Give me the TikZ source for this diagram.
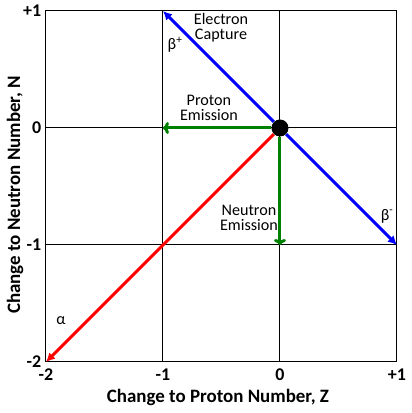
\documentclass[tikz,border=0pt]{standalone}
\usepackage{fontspec}
\setmainfont{Carlito}
\usetikzlibrary{arrows.meta,positioning}

\definecolor{decblue}{RGB}{0,0,255}
\definecolor{decred}{RGB}{255,0,0}
\definecolor{decgreen}{RGB}{0,128,0}

\begin{document}
\begin{tikzpicture}
  [x=117bp, y=117bp, >={Latex[length=9bp,width=9bp]}]

% fix the margins
\useasboundingbox (-2.393,-2.436) rectangle (1.128,1.094);

% define styles
\tikzstyle{gridline} = [draw=black, line width=1bp];
\tikzstyle{tick} = [font=\fontsize{18}{20}\selectfont\bfseries, inner sep=1bp];
\tikzstyle{axistitle} = [font=\fontsize{19}{21}\selectfont\bfseries, inner sep=0pt];
\tikzstyle{note} = [font=\fontsize{16.2}{15.5}\selectfont, align=center, inner sep=0pt];
\tikzstyle{decay} = [->, line width=3bp];
\tikzstyle{emit} = [-{To[length=6bp,width=12bp,line width=3bp]}, line width=3bp, decgreen];
\tikzstyle{nucleus} = [circle, fill=black, minimum size=17bp, inner sep=0pt];

% grid
\draw[gridline] (-2,-2) rectangle (1,1);
\foreach \v in {-1,0}{
  \draw[gridline] (\v,-2) -- (\v,1);
  \draw[gridline] (-2,\v) -- (1,\v);
}

% tick labels
\foreach \v/\t in {-2/-2,-1/-1,0/0,1/+1}{
  \node[tick, anchor=north] (zt\v) at (\v,-2.05) {\t};
  \node[tick, anchor=east] (nt\v) at (-2.03,\v) {\t};
}

% axis titles
\node[axistitle] (ztitle) at (-0.53,-2.299) {Change to Proton Number, Z};
\node[axistitle, rotate=90] (ntitle) at (-2.265,-0.573) {Change to Neutron Number, N};

% end points of the decays
\coordinate (ecend) at (-1,1);
\coordinate (bmend) at (1,-1);
\coordinate (peend) at (-1,0);
\coordinate (neend) at (0,-1);
\coordinate (alend) at (-2,-2);

% parent nucleus
\node[nucleus] (o) at (0,0) {};

% draw decays
\draw[decay, decblue] (o) -- (ecend);
\draw[decay, decblue] (o) -- (bmend);
\draw[decay, decred] (o) -- (alend);
\draw[emit] (o) -- (peend);
\draw[emit] (o) -- (neend);

% labels
\node[note] (ec) at (-0.504,0.855) {Electron\\Capture};
\node[note] (bp) at (-0.897,0.709) {β\textsuperscript{+}};
\node[note] (pe) at (-0.607,0.171) {Proton\\Emission};
\node[note] (ne) at (-0.265,-0.769) {Neutron\\Emission};
\node[note] (bm) at (0.915,-0.752) {β\textsuperscript{-}};
\node[note] (al) at (-1.872,-1.650) {α};

\end{tikzpicture}
\end{document}
